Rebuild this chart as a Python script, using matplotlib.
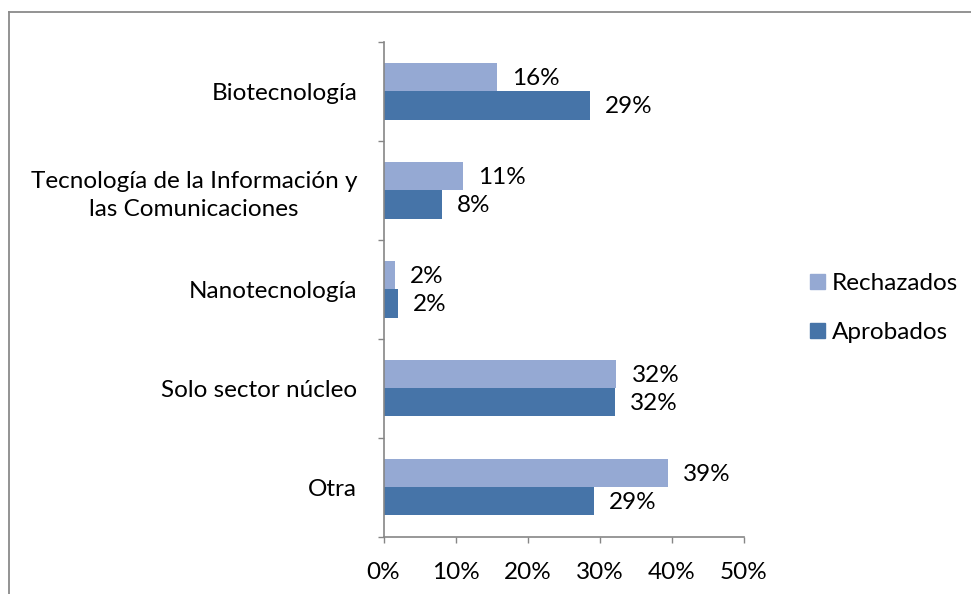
import numpy as np
import matplotlib
matplotlib.use('Agg')
from matplotlib import pyplot as plt
from matplotlib.lines import Line2D
from matplotlib.patches import Patch

categories = ['Otra', 'Solo sector núcleo', 'Nanotecnología',
              'Tecnología de la Información y\nlas Comunicaciones',
              'Biotecnología']
rechazados = [0.394, 0.323, 0.016, 0.110, 0.157]
aprobados = [0.292, 0.321, 0.020, 0.081, 0.286]
xticks = [0, 0.1, 0.2, 0.3, 0.4, 0.5]

color_rech = '#95A9D3'
color_apr = '#4674A8'
axis_color = '#868686'

plt.rcParams['font.family'] = ['Lato', 'DejaVu Sans']
fs = 17.5

fig = plt.figure(figsize=(9.71, 5.94), dpi=100)
ax = fig.add_axes([0.395, 0.096, 0.3712, 0.8333])

# outer chart frame (runs off the right and bottom edges)
fig.add_artist(Line2D([9 / 971, 9 / 971], [0, 1 - 12 / 594],
                      color='#8A8A8A', lw=1.3))
fig.add_artist(Line2D([9 / 971, 1], [1 - 12 / 594, 1 - 12 / 594],
                      color='#8A8A8A', lw=1.3))

y = np.arange(len(categories))
h = 0.283
ax.barh(y + h / 2, rechazados, height=h, color=color_rech, label='Rechazados')
ax.barh(y - h / 2, aprobados, height=h, color=color_apr, label='Aprobados')

for yy, v in zip(y + h / 2, rechazados):
    ax.annotate(f'{v:.0%}', (v, yy), xytext=(11, -1), textcoords='offset points',
                va='center', ha='left', fontsize=fs)
for yy, v in zip(y - h / 2, aprobados):
    ax.annotate(f'{v:.0%}', (v, yy), xytext=(11, -1), textcoords='offset points',
                va='center', ha='left', fontsize=fs)

ax.set_xlim(0, 0.5)
ax.set_ylim(-0.5, len(categories) - 0.5)
ax.set_xticks(xticks)
ax.set_xticklabels([f'{t:.0%}' for t in xticks], fontsize=fs)
ax.set_yticks(y)
ax.set_yticklabels(categories, fontsize=fs, ha='right', multialignment='center',
                   linespacing=1.38)
ax.set_yticks(np.arange(-0.5, len(categories)), minor=True)

ax.tick_params(axis='y', which='major', length=0, pad=19)
ax.tick_params(axis='y', which='minor', length=4.3, color=axis_color, width=1)
ax.tick_params(axis='x', which='major', length=4.3, color=axis_color, width=1,
               pad=14)

for side in ['top', 'right']:
    ax.spines[side].set_visible(False)
for side in ['left', 'bottom']:
    ax.spines[side].set_color(axis_color)
    ax.spines[side].set_linewidth(1.2)

handles = [Patch(color=color_rech, label='Rechazados'),
           Patch(color=color_apr, label='Aprobados')]
fig.legend(handles=handles, loc='center left', bbox_to_anchor=(0.834, 0.4815),
           frameon=False, fontsize=fs, handlelength=0.62, handleheight=0.62,
           handletextpad=0.3, labelspacing=1.15, borderpad=0, borderaxespad=0)

fig.savefig('out.png', dpi=100)
